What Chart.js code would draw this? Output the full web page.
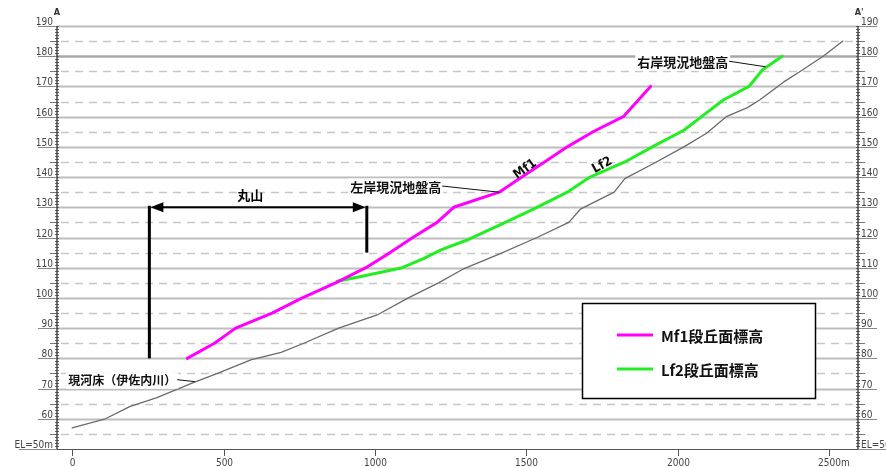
<!DOCTYPE html>
<html>
<head>
<meta charset="utf-8">
<script src="https://cdn.jsdelivr.net/npm/chart.js@4"></script>
<style>
  html, body { margin: 0; padding: 0; background: #fff; }
</style>
</head>
<body>
<canvas id="perfil" width="886" height="467"></canvas>
<script>
// ===== 縦断データ (距離 m / 標高 EL m) =====
const riverX = [0, 110, 190, 280, 400, 480, 590, 690, 765, 880, 1010, 1110, 1210, 1290, 1410, 1535, 1640, 1680, 1790, 1825, 1920, 2020, 2095, 2160, 2230, 2270, 2350, 2405, 2480, 2545];
const riverY = [57, 60, 64, 67, 72, 75, 79.5, 82, 85, 90, 94.5, 100, 105, 109.5, 114.5, 120, 125, 129.5, 135, 139.5, 144.5, 150, 154.5, 160, 163, 165.5, 171.5, 175, 180, 185];

const mf1X = [380, 470, 540, 660, 760, 870, 970, 1050, 1125, 1205, 1260, 1410, 1485, 1560, 1635, 1720, 1820, 1910];
const mf1Y = [80, 85, 90, 95, 100, 105, 110, 115, 120, 125, 130, 135, 140, 145, 150, 155, 160, 170];

const lf2X = [875, 950, 1090, 1160, 1220, 1300, 1420, 1525, 1635, 1710, 1825, 1925, 2020, 2085, 2150, 2235, 2280, 2345];
const lf2Y = [105.5, 107, 110, 113, 116, 119, 124.5, 129.5, 135, 140, 145, 150.5, 155.5, 160.5, 165.5, 170, 175.5, 180];

// 軸
const distTicks = [0, 500, 1000, 1500, 2000, 2500];
const elevTicks = [60, 70, 80, 90, 100, 110, 120, 130, 140, 150, 160, 170, 180, 190];

// 丸山の範囲
const maruyamaX = [255, 973];
const maruyamaTop = 130;
const maruyamaBottom = [80, 115];

const MAGENTA = "#ff00ff";
const GREEN = "#22ee22";
const RIVER = "#6a6a6a";

const NARROW = '"Liberation Sans Narrow", "DejaVu Sans Condensed", sans-serif';
const JP = '"Noto Sans CJK JP", sans-serif';

function pts(xs, ys) {
  return xs.map((x, i) => ({ x: x, y: ys[i] }));
}

function line(ctx, x1, y1, x2, y2) {
  ctx.beginPath();
  ctx.moveTo(x1, y1);
  ctx.lineTo(x2, y2);
  ctx.stroke();
}

// 白地付きの注記
function note(ctx, text, px, py, size) {
  ctx.font = `bold ${size}px ${JP}`;
  const w = ctx.measureText(text).width;
  ctx.fillStyle = "#fff";
  ctx.fillRect(px - 2, py - size / 2 - 2, w + 4, size + 4);
  ctx.fillStyle = "#111";
  ctx.textAlign = "left";
  ctx.textBaseline = "middle";
  ctx.fillText(text, px, py);
  return w;
}

// ===== 罫線・軸 =====
const gridPlugin = {
  id: "grid",
  beforeDatasetsDraw(chart) {
    const { ctx, chartArea: a, scales } = chart;
    const y = scales.y, x = scales.x;
    ctx.save();

    for (let v = 55; v <= 190; v += 5) {
      const py = Math.round(y.getPixelForValue(v)) + 0.5;
      if (v % 10 === 0) {
        ctx.setLineDash([]);
        ctx.strokeStyle = v === 180 ? "#a8a8a8" : "#bdbdbd";
        ctx.lineWidth = v === 180 ? 2.5 : 2;
        line(ctx, a.left, py, a.right, py);
      } else {
        ctx.setLineDash([8, 6]);
        ctx.strokeStyle = "#c8c8c8";
        ctx.lineWidth = 1.4;
        line(ctx, a.left + 4, py, a.right - 4, py);
        ctx.setLineDash([]);
        ctx.strokeStyle = "#777";
        ctx.lineWidth = 1;
        line(ctx, a.left - 7, py, a.left, py);
        line(ctx, a.right, py, a.right + 7, py);
      }
    }
    ctx.setLineDash([]);

    // 目盛 (1m)
    ctx.strokeStyle = "#666";
    ctx.lineWidth = 1;
    for (let v = 50; v <= 190; v++) {
      const py = Math.round(y.getPixelForValue(v)) + 0.5;
      line(ctx, a.left - 2, py, a.left + 2, py);
      line(ctx, a.right - 2, py, a.right + 2, py);
    }

    // 標高ラベル
    ctx.font = `10px ${NARROW}`;
    ctx.fillStyle = "#444";
    ctx.textBaseline = "alphabetic";
    elevTicks.forEach((v) => {
      const py = Math.round(y.getPixelForValue(v)) + 0.5;
      ctx.strokeStyle = "#888";
      line(ctx, a.left - 19, py, a.left, py);
      line(ctx, a.right, py, a.right + 19, py);
      ctx.textAlign = "right";
      ctx.fillText(String(v), a.left - 4, py - 1.5);
      ctx.textAlign = "left";
      ctx.fillText(String(v), a.right + 3, py - 1.5);
    });
    const pb = Math.round(a.bottom) + 0.5;
    ctx.strokeStyle = "#888";
    line(ctx, a.left - 38, pb, a.left, pb);
    line(ctx, a.right, pb, a.right + 30, pb);
    ctx.textAlign = "right";
    ctx.fillText("EL=50m", a.left - 4, pb - 1.5);
    ctx.textAlign = "left";
    ctx.fillText("EL=50m", a.right + 3, pb - 1.5);

    // 外枠の縦軸・底辺
    ctx.strokeStyle = "#444";
    ctx.lineWidth = 1.5;
    line(ctx, a.left, a.top, a.left, a.bottom);
    line(ctx, a.right, a.top, a.right, a.bottom);
    ctx.strokeStyle = "#555";
    ctx.lineWidth = 1.2;
    line(ctx, a.left, pb, a.right, pb);

    // 距離ラベル
    ctx.strokeStyle = "#555";
    ctx.lineWidth = 1;
    ctx.font = `10px ${NARROW}`;
    ctx.fillStyle = "#444";
    distTicks.forEach((d) => {
      const px = Math.round(x.getPixelForValue(d)) + 0.5;
      line(ctx, px, a.bottom, px, a.bottom + 7);
      const s = String(d);
      const w = ctx.measureText(s).width;
      ctx.textAlign = "left";
      ctx.fillText(d === 2500 ? s + "m" : s, px - w / 2, a.bottom + 17);
    });

    // 測線記号
    ctx.font = `bold 9px ${NARROW}`;
    ctx.fillStyle = "#333";
    ctx.textAlign = "center";
    ctx.fillText("A", a.left, a.top - 11);
    ctx.fillText("A'", a.right + 1, a.top - 11);

    ctx.restore();
  },

  afterDatasetsDraw(chart) {
    const { ctx, scales } = chart;
    const x = scales.x, y = scales.y;
    ctx.save();

    // 丸山の範囲
    const xl = x.getPixelForValue(maruyamaX[0]);
    const xr = x.getPixelForValue(maruyamaX[1]);
    const yt = y.getPixelForValue(maruyamaTop);
    ctx.strokeStyle = "#000";
    ctx.fillStyle = "#000";
    ctx.lineWidth = 3;
    line(ctx, xl, yt - 1.5, xl, y.getPixelForValue(maruyamaBottom[0]));
    line(ctx, xr, yt - 1.5, xr, y.getPixelForValue(maruyamaBottom[1]));
    ctx.lineWidth = 2;
    line(ctx, xl + 10, yt, xr - 10, yt);
    ctx.beginPath();
    ctx.moveTo(xl + 1, yt);
    ctx.lineTo(xl + 14, yt - 5);
    ctx.lineTo(xl + 14, yt + 5);
    ctx.closePath();
    ctx.fill();
    ctx.beginPath();
    ctx.moveTo(xr - 1, yt);
    ctx.lineTo(xr - 14, yt - 5);
    ctx.lineTo(xr - 14, yt + 5);
    ctx.closePath();
    ctx.fill();
    ctx.font = `bold 13px ${JP}`;
    ctx.textAlign = "center";
    ctx.textBaseline = "middle";
    ctx.fillText("丸山", x.getPixelForValue(588), y.getPixelForValue(134));

    // 引出線付き注記
    ctx.lineWidth = 1;
    ctx.strokeStyle = "#111";
    const notes = [
      { text: "現河床（伊佐内川）", x: -13, y: 72.6, size: 12, tx: 405, ty: 72.3 },
      { text: "左岸現況地盤高", x: 918, y: 136.7, size: 13, tx: 1410, ty: 135 },
      { text: "右岸現況地盤高", x: 1866, y: 178, size: 13, tx: 2290, ty: 176.5 },
    ];
    notes.forEach((n) => {
      const px = x.getPixelForValue(n.x);
      const py = y.getPixelForValue(n.y);
      const w = note(ctx, n.text, px, py, n.size);
      line(ctx, px + w + 1, py - 1, x.getPixelForValue(n.tx), y.getPixelForValue(n.ty));
    });

    // 段丘名
    const tags = [
      { text: "Mf1", x: 1496, y: 142.6, ang: -36 },
      { text: "Lf2", x: 1750, y: 143.9, ang: -29 },
    ];
    ctx.font = `bold 13px ${NARROW}`;
    ctx.fillStyle = "#111";
    ctx.textAlign = "center";
    ctx.textBaseline = "middle";
    tags.forEach((t) => {
      ctx.save();
      ctx.translate(x.getPixelForValue(t.x), y.getPixelForValue(t.y));
      ctx.rotate((t.ang * Math.PI) / 180);
      ctx.fillText(t.text, 0, 0);
      ctx.restore();
    });

    // 凡例
    ctx.fillStyle = "#fff";
    ctx.fillRect(582, 303, 234, 96);
    ctx.strokeStyle = "#000";
    ctx.lineWidth = 1.5;
    ctx.strokeRect(582.5, 303.5, 233, 95);
    const items = chart.data.datasets.filter((d) => d.label !== "現河床").reverse();
    ctx.font = `bold 15px ${JP}`;
    ctx.textAlign = "left";
    items.forEach((d, i) => {
      const ly = 335 + i * 34;
      ctx.strokeStyle = d.borderColor;
      ctx.lineWidth = 3;
      line(ctx, 617, ly, 653, ly);
      ctx.fillStyle = "#111";
      ctx.fillText(d.label, 661, ly + 1);
    });

    ctx.restore();
  },
};

const ctx = document.getElementById("perfil").getContext("2d");

new Chart(ctx, {
  type: "line",
  data: {
    datasets: [
      { label: "現河床", data: pts(riverX, riverY), borderColor: RIVER, borderWidth: 1.3, order: 3 },
      { label: "Lf2段丘面標高", data: pts(lf2X, lf2Y), borderColor: GREEN, borderWidth: 3, order: 2 },
      { label: "Mf1段丘面標高", data: pts(mf1X, mf1Y), borderColor: MAGENTA, borderWidth: 3, order: 1 },
    ],
  },
  options: {
    responsive: false,
    devicePixelRatio: 1,
    animation: false,
    layout: { padding: { left: 57, right: 28, top: 26, bottom: 18 } },
    elements: {
      point: { radius: 0 },
      line: { tension: 0, borderJoinStyle: "round", borderCapStyle: "round" },
    },
    scales: {
      x: { type: "linear", min: -50, max: 2595, display: false },
      y: { type: "linear", min: 50, max: 190, display: false },
    },
    plugins: {
      legend: { display: false },
      tooltip: { enabled: false },
    },
  },
  plugins: [gridPlugin],
});
</script>
</body>
</html>
